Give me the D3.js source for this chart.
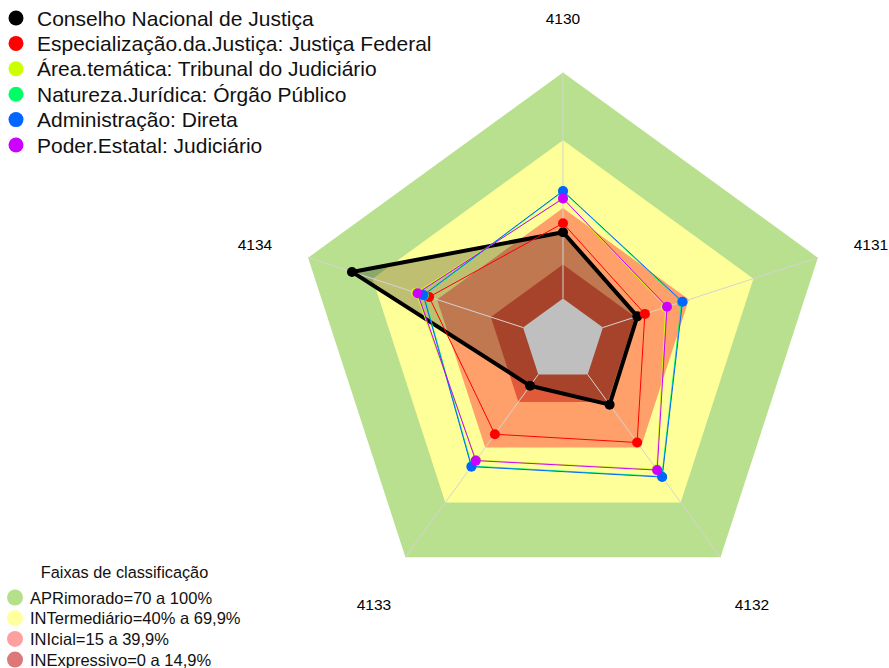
<!DOCTYPE html>
<html><head><meta charset="utf-8">
<script src="https://cdn.jsdelivr.net/npm/d3@7"></script>
<style>body{margin:0;background:#fff}svg{display:block;font-family:"Liberation Sans",Arial,sans-serif}</style>
</head><body>
<svg id="chart" width="889" height="668"></svg>
<script>
const axesLabels = ["4130","4131","4132","4133","4134"];
const seriesNames = ["Conselho Nacional de Justiça","Especialização.da.Justiça: Justiça Federal","Área.temática: Tribunal do Judiciário","Natureza.Jurídica: Órgão Público","Administração: Direta","Poder.Estatal: Judiciário"];
const seriesColors = ["#000000","#FF0000","#CCFF00","#00FF66","#0066FF","#CC00FF"];
const conselho = [29.3,16.0,16.5,6.2,79.6];
const justicaFederal = [33.3,19.5,37.2,32.7,43.7];
const tribunal = [44.0,29.2,51.9,46.8,49.8];
const orgaoPublico = [47.4,36.6,55.8,50.1,46.1];
const direta = [47.6,37.0,56.1,50.4,46.4];
const judiciario = [44.3,29.8,52.3,47.1,49.1];
const bandNames = ["APRimorado=70 a 100%","INTermediário=40% a 69,9%","INIcial=15 a 39,9%","INExpressivo=0 a 14,9%"];
const bandLimits = [100,70,40,15,0];
const bandColors = ["#B9E08E","#FFFF99","#FFA06A","#E05A3A"];
const bandLegendColors = ["#B5E08A","#FFFF9E","#FFA0A0","#DC7878"];

const svg = d3.select("#chart");
const cx = 563, cy = 340.5;
const r = d3.scaleLinear().domain([0,100]).range([42,268]);
const ang = d3.scaleLinear().domain([0,axesLabels.length]).range([-Math.PI/2, 1.5*Math.PI]);
const pt = (i,v)=>[cx+r(v)*Math.cos(ang(i)), cy+r(v)*Math.sin(ang(i))];
const poly = vals => vals.map((v,i)=>pt(i,v));
const line = d3.line().curve(d3.curveLinearClosed);

// bands
const g = svg.append("g");
bandColors.forEach((c,k)=>{
  g.append("path").attr("d", line(axesLabels.map((a,i)=>pt(i,bandLimits[k])))).attr("fill",c);
});
g.append("path").attr("d", line(axesLabels.map((a,i)=>pt(i,0)))).attr("fill","#FFFFFF");

const data = [conselho,justicaFederal,tribunal,orgaoPublico,direta,judiciario];
// black fill
svg.append("path").attr("d", line(poly(conselho))).attr("fill","rgba(0,0,0,0.25)");

// spokes
axesLabels.forEach((a,i)=>{
  const p0 = pt(i,0), p1 = pt(i,100);
  svg.append("line").attr("x1",p0[0]).attr("y1",p0[1]).attr("x2",p1[0]).attr("y2",p1[1])
    .attr("stroke","#D4D4D4").attr("stroke-width",1);
});

// series
data.forEach((vals,s)=>{
  const gg = svg.append("g");
  gg.append("path").attr("d", line(poly(vals))).attr("fill","none")
    .attr("stroke",seriesColors[s]).attr("stroke-width", s===0?4:1).attr("stroke-linejoin","round");
  gg.selectAll("circle").data(vals).join("circle")
    .attr("cx",(v,i)=>pt(i,v)[0]).attr("cy",(v,i)=>pt(i,v)[1])
    .attr("r",5).attr("fill",seriesColors[s]);
});

// axis labels
const labelPos = [[563,24],[871,250],[752,610],[374,610],[255,250]];
axesLabels.forEach((a,i)=>{
  svg.append("text").attr("x",labelPos[i][0]).attr("y",labelPos[i][1]).attr("text-anchor","middle")
    .attr("font-size",15.5).attr("fill","#000").text(a);
});

// top legend
seriesNames.forEach((n,k)=>{
  const y = 18 + k*25.4;
  svg.append("circle").attr("cx",16).attr("cy",y).attr("r",7.5).attr("fill",seriesColors[k]);
  svg.append("text").attr("x",37).attr("y",y+7.5).attr("font-size",21).attr("fill","#111").text(n);
});

// bottom legend
svg.append("text").attr("x",124.5).attr("y",578).attr("text-anchor","middle").attr("font-size",16.3).attr("fill","#111").text("Faixas de classificação");
bandNames.forEach((n,k)=>{
  const y = 597.5 + k*20.7;
  svg.append("circle").attr("cx",15).attr("cy",y).attr("r",8).attr("fill",bandLegendColors[k]);
  svg.append("text").attr("x",30).attr("y",y+6).attr("font-size",16.5).attr("fill","#111").text(n);
});
</script>
</body></html>
